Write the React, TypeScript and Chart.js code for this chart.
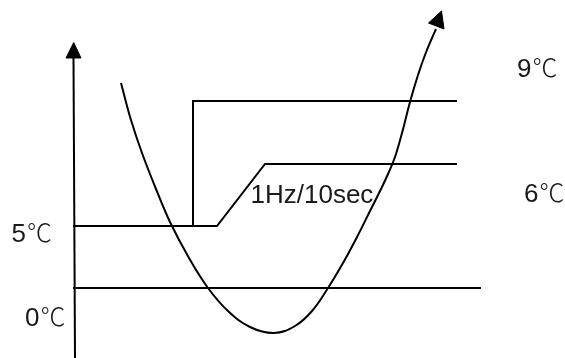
import React, { useEffect, useRef } from "react";
import { Chart, registerables } from "chart.js";

Chart.register(...registerables);

// x: time axis (arbitrary units), y: height above the 0℃ line (arbitrary units)
const axisX = [75, 73.5];
const axisY = [-70, 230];
const axisHeadX = [66, 73.7, 81, 66];
const axisHeadY = [230, 245.5, 230, 230];

const zeroLineX = [73, 481];
const zeroLineY = [0, 0];

const rampX = [73, 217, 265, 457];
const rampY = [62, 62, 124, 124];

const stepX = [193, 193, 457];
const stepY = [62, 187, 187];

const curveX = [121, 131, 142, 156, 170, 189, 208, 228, 250, 274, 295, 312, 328, 343, 357, 370, 382, 388, 395, 402, 410, 418, 425, 432, 436];
const curveY = [205, 168, 135, 99, 66, 30, 0, -23, -39, -45, -38, -23, 0, 25, 51, 77, 101, 114, 131, 155, 186, 213, 233, 250, 259];

const curveHeadX = [441.5, 428.5, 444, 441.5];
const curveHeadY = [277, 265, 259, 277];

const labelTexts = ["9℃", "6℃", "5℃", "0℃", "1Hz/10sec"];
const labelX = [517, 524, 11.5, 25, 250.5];
const labelY = [211, 86, 46, -38, 85];

const pts = (xs: number[], ys: number[]) => xs.map((x, i) => ({ x, y: ys[i] }));

const lineDs = (xs: number[], ys: number[], extra: any = {}) => ({
  data: pts(xs, ys),
  borderColor: "#000",
  backgroundColor: "#000",
  borderWidth: 2,
  pointRadius: 0,
  tension: 0,
  fill: false,
  ...extra,
});

const LATIN = '26px "Liberation Sans", Arial, sans-serif';
const CJK = '300 25px "Noto Sans CJK SC", "Noto Sans CJK JP", sans-serif';

const textPlugin = {
  id: "schemaText",
  afterDatasetsDraw(chart: any) {
    const { ctx, scales } = chart;
    ctx.save();
    ctx.fillStyle = "#1a1a1a";
    ctx.textAlign = "left";
    ctx.textBaseline = "alphabetic";
    labelTexts.forEach((t, i) => {
      let x = scales.x.getPixelForValue(labelX[i]);
      const y = scales.y.getPixelForValue(labelY[i]);
      const parts = t.split(/(℃)/).filter((p) => p.length);
      parts.forEach((p) => {
        ctx.font = p === "℃" ? CJK : LATIN;
        if (p === "℃") x += 1;
        ctx.fillText(p, x, y);
        x += ctx.measureText(p).width;
      });
    });
    ctx.restore();
  },
};

export default function App() {
  const ref = useRef<HTMLCanvasElement>(null);
  useEffect(() => {
    document.body.style.margin = "0";
    const chart = new Chart(ref.current as HTMLCanvasElement, {
      type: "line",
      data: {
        datasets: [
          lineDs(axisX, axisY),
          lineDs(axisHeadX, axisHeadY, { fill: "shape", borderWidth: 1 }),
          lineDs(zeroLineX, zeroLineY),
          lineDs(rampX, rampY),
          lineDs(stepX, stepY),
          lineDs(curveX, curveY, { tension: 0.4 }),
          lineDs(curveHeadX, curveHeadY, { fill: "shape", borderWidth: 1 }),
        ] as any,
      },
      options: {
        responsive: false,
        animation: false,
        devicePixelRatio: 1,
        layout: { padding: 0 },
        plugins: { legend: { display: false }, tooltip: { enabled: false } },
        scales: {
          x: { type: "linear", min: 0, max: 565, display: false },
          y: { type: "linear", min: -70, max: 288, display: false },
        },
      },
      plugins: [textPlugin],
    });
    return () => chart.destroy();
  }, []);
  return (
    <div style={{ position: "fixed", left: 0, top: 0, width: 565, height: 358, background: "#fff" }}>
      <canvas ref={ref} width={565} height={358} />
    </div>
  );
}
